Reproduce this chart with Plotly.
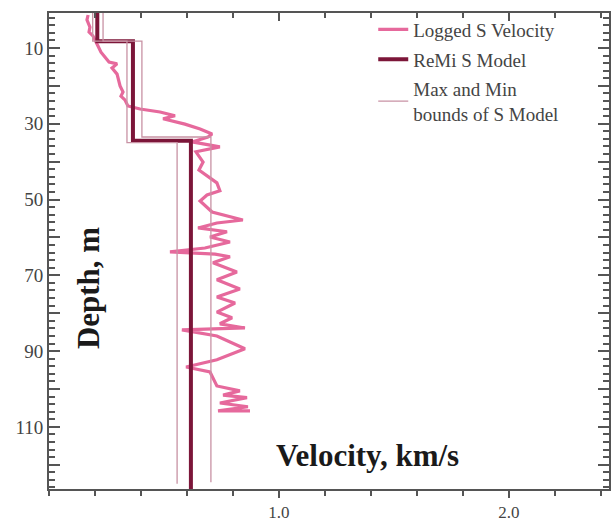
import plotly.graph_objects as go

# Logged S velocity (km/s) vs depth (m)
log_vel = [0.170, 0.165, 0.178, 0.174, 0.191, 0.204, 0.213, 0.226, 0.243, 0.261,
           0.296, 0.274, 0.296, 0.304, 0.309, 0.322, 0.313, 0.330, 0.343, 0.396,
           0.483, 0.548, 0.496, 0.591, 0.657, 0.709, 0.691, 0.622, 0.743, 0.639,
           0.670, 0.652, 0.691, 0.730, 0.743, 0.687, 0.657, 0.709, 0.843, 0.730,
           0.648, 0.774, 0.700, 0.787, 0.678, 0.526, 0.722, 0.787, 0.713, 0.817,
           0.730, 0.830, 0.730, 0.809, 0.730, 0.796, 0.743, 0.852, 0.578, 0.730,
           0.852, 0.730, 0.596, 0.700, 0.730, 0.830, 0.757, 0.861, 0.743, 0.865,
           0.735, 0.874]
log_depth = [1.3, 2.6, 4.5, 5.8, 6.8, 8.2, 9.5, 11.1, 12.4, 13.7,
             14.2, 15.3, 16.9, 18.4, 20.0, 21.6, 22.7, 23.7, 25.3, 26.1,
             26.9, 27.9, 28.7, 30.1, 31.4, 32.7, 33.5, 34.8, 36.1, 37.4,
             40.1, 42.2, 44.0, 45.6, 47.7, 48.8, 50.4, 53.3, 55.4, 56.2,
             57.5, 58.5, 59.9, 61.2, 62.8, 63.8, 64.4, 65.1, 66.7, 69.1,
             71.2, 73.6, 75.7, 77.3, 79.7, 81.2, 82.8, 83.9, 84.4, 86.0,
             89.4, 92.3, 94.2, 95.5, 99.2, 100.5, 101.6, 102.3, 103.7, 104.7,
             105.8, 105.8]

# ReMi S model (step profile)
model_vel = [0.21, 0.21, 0.365, 0.365, 0.617, 0.617]
model_depth = [0.0, 8.2, 8.2, 34.5, 34.5, 126.4]

# Min and max bounds of the S model
min_vel = [0.19, 0.19, 0.339, 0.339, 0.557, 0.557]
min_depth = [0.0, 8.2, 8.2, 35.0, 35.0, 125.0]
max_vel = [0.235, 0.235, 0.404, 0.404, 0.704, 0.704]
max_depth = [0.0, 8.2, 8.2, 33.5, 33.5, 124.6]

y_tickvals = [10, 20, 30, 40, 50, 60, 70, 80, 90, 100, 110, 120]
y_ticktext = ["10", "", "30", "", "50", "", "70", "", "90", "", "110", ""]
x_tickvals = [1.0, 2.0]
x_ticktext = ["1.0", "2.0"]

PINK = "#e6699c"
DARK = "#7c1639"
THIN = "#c892a4"
AX = "#555555"
FONT = "Liberation Serif"

fig = go.Figure()
fig.add_trace(go.Scatter(x=log_vel, y=log_depth, mode="lines", name="Logged S Velocity",
                         line=dict(color=PINK, width=3.2)))
fig.add_trace(go.Scatter(x=model_vel, y=model_depth, mode="lines", name="ReMi S Model",
                         line=dict(color=DARK, width=4)))
fig.add_trace(go.Scatter(x=min_vel, y=min_depth, mode="lines",
                         name="Max and Min<br>bounds of S Model",
                         line=dict(color=THIN, width=1.3), legendgroup="b"))
fig.add_trace(go.Scatter(x=max_vel, y=max_depth, mode="lines", showlegend=False,
                         line=dict(color=THIN, width=1.3), legendgroup="b"))
# invisible trace to carry the top x axis
fig.add_trace(go.Scatter(x=[0.5], y=[50], xaxis="x2", mode="markers",
                         marker=dict(opacity=0), showlegend=False, hoverinfo="skip"))

XR = [0, 2.435]
fig.update_layout(
    width=611, height=523,
    margin=dict(l=49, r=2, t=13, b=34, autoexpand=False),
    paper_bgcolor="white", plot_bgcolor="white",
    font=dict(family=FONT, color="#444444"),
    xaxis=dict(range=XR, tickvals=x_tickvals, ticktext=x_ticktext, automargin=False,
               ticks="outside", ticklen=7, tickwidth=1.5, tickcolor=AX,
               minor=dict(dtick=0.2, ticks="outside", ticklen=5, tickwidth=1.5, tickcolor=AX),
               showline=True, linecolor=AX, linewidth=2, showgrid=False, zeroline=False,
               tickfont=dict(size=17, family=FONT, color="#444444")),
    xaxis2=dict(range=XR, overlaying="x", side="top", tickvals=x_tickvals, automargin=False,
                showticklabels=False, ticks="inside", ticklen=8, tickwidth=1.5, tickcolor=AX,
                minor=dict(dtick=0.2, ticks="inside", ticklen=5, tickwidth=1.5, tickcolor=AX),
                showline=True, linecolor=AX, linewidth=2, showgrid=False, zeroline=False),
    yaxis=dict(range=[126.4, 0.77], tickvals=y_tickvals, ticktext=y_ticktext, automargin=False,
               ticks="inside", ticklen=11, tickwidth=1.5, tickcolor=AX,
               minor=dict(dtick=2, ticks="inside", ticklen=6, tickwidth=1.5, tickcolor=AX),
               showline=True, linecolor=AX, linewidth=2, mirror="ticks",
               showgrid=False, zeroline=False,
               tickfont=dict(size=19, family=FONT, color="#444444")),
    legend=dict(x=0.579, y=1.005, xanchor="left", yanchor="top",
                bgcolor="rgba(0,0,0,0)", font=dict(size=19, family=FONT, color="#444444"),
                tracegroupgap=2),
    showlegend=True,
    annotations=[
        dict(text="<b>Depth, m</b>", xref="paper", yref="paper", x=0.0696, y=0.422,
             xanchor="center", yanchor="middle",
             textangle=-90, showarrow=False, font=dict(size=31, family=FONT, color="#1a1a1a")),
        dict(text="<b>Velocity, km/s</b>", xref="paper", yref="paper", x=0.568, y=0.0714,
             xanchor="center", yanchor="middle",
             showarrow=False, font=dict(size=31, family=FONT, color="#1a1a1a")),
    ],
)

fig.write_html("out.html", config={"displayModeBar": False},
               post_script="document.body.style.margin='0';document.body.style.overflow='hidden';")
